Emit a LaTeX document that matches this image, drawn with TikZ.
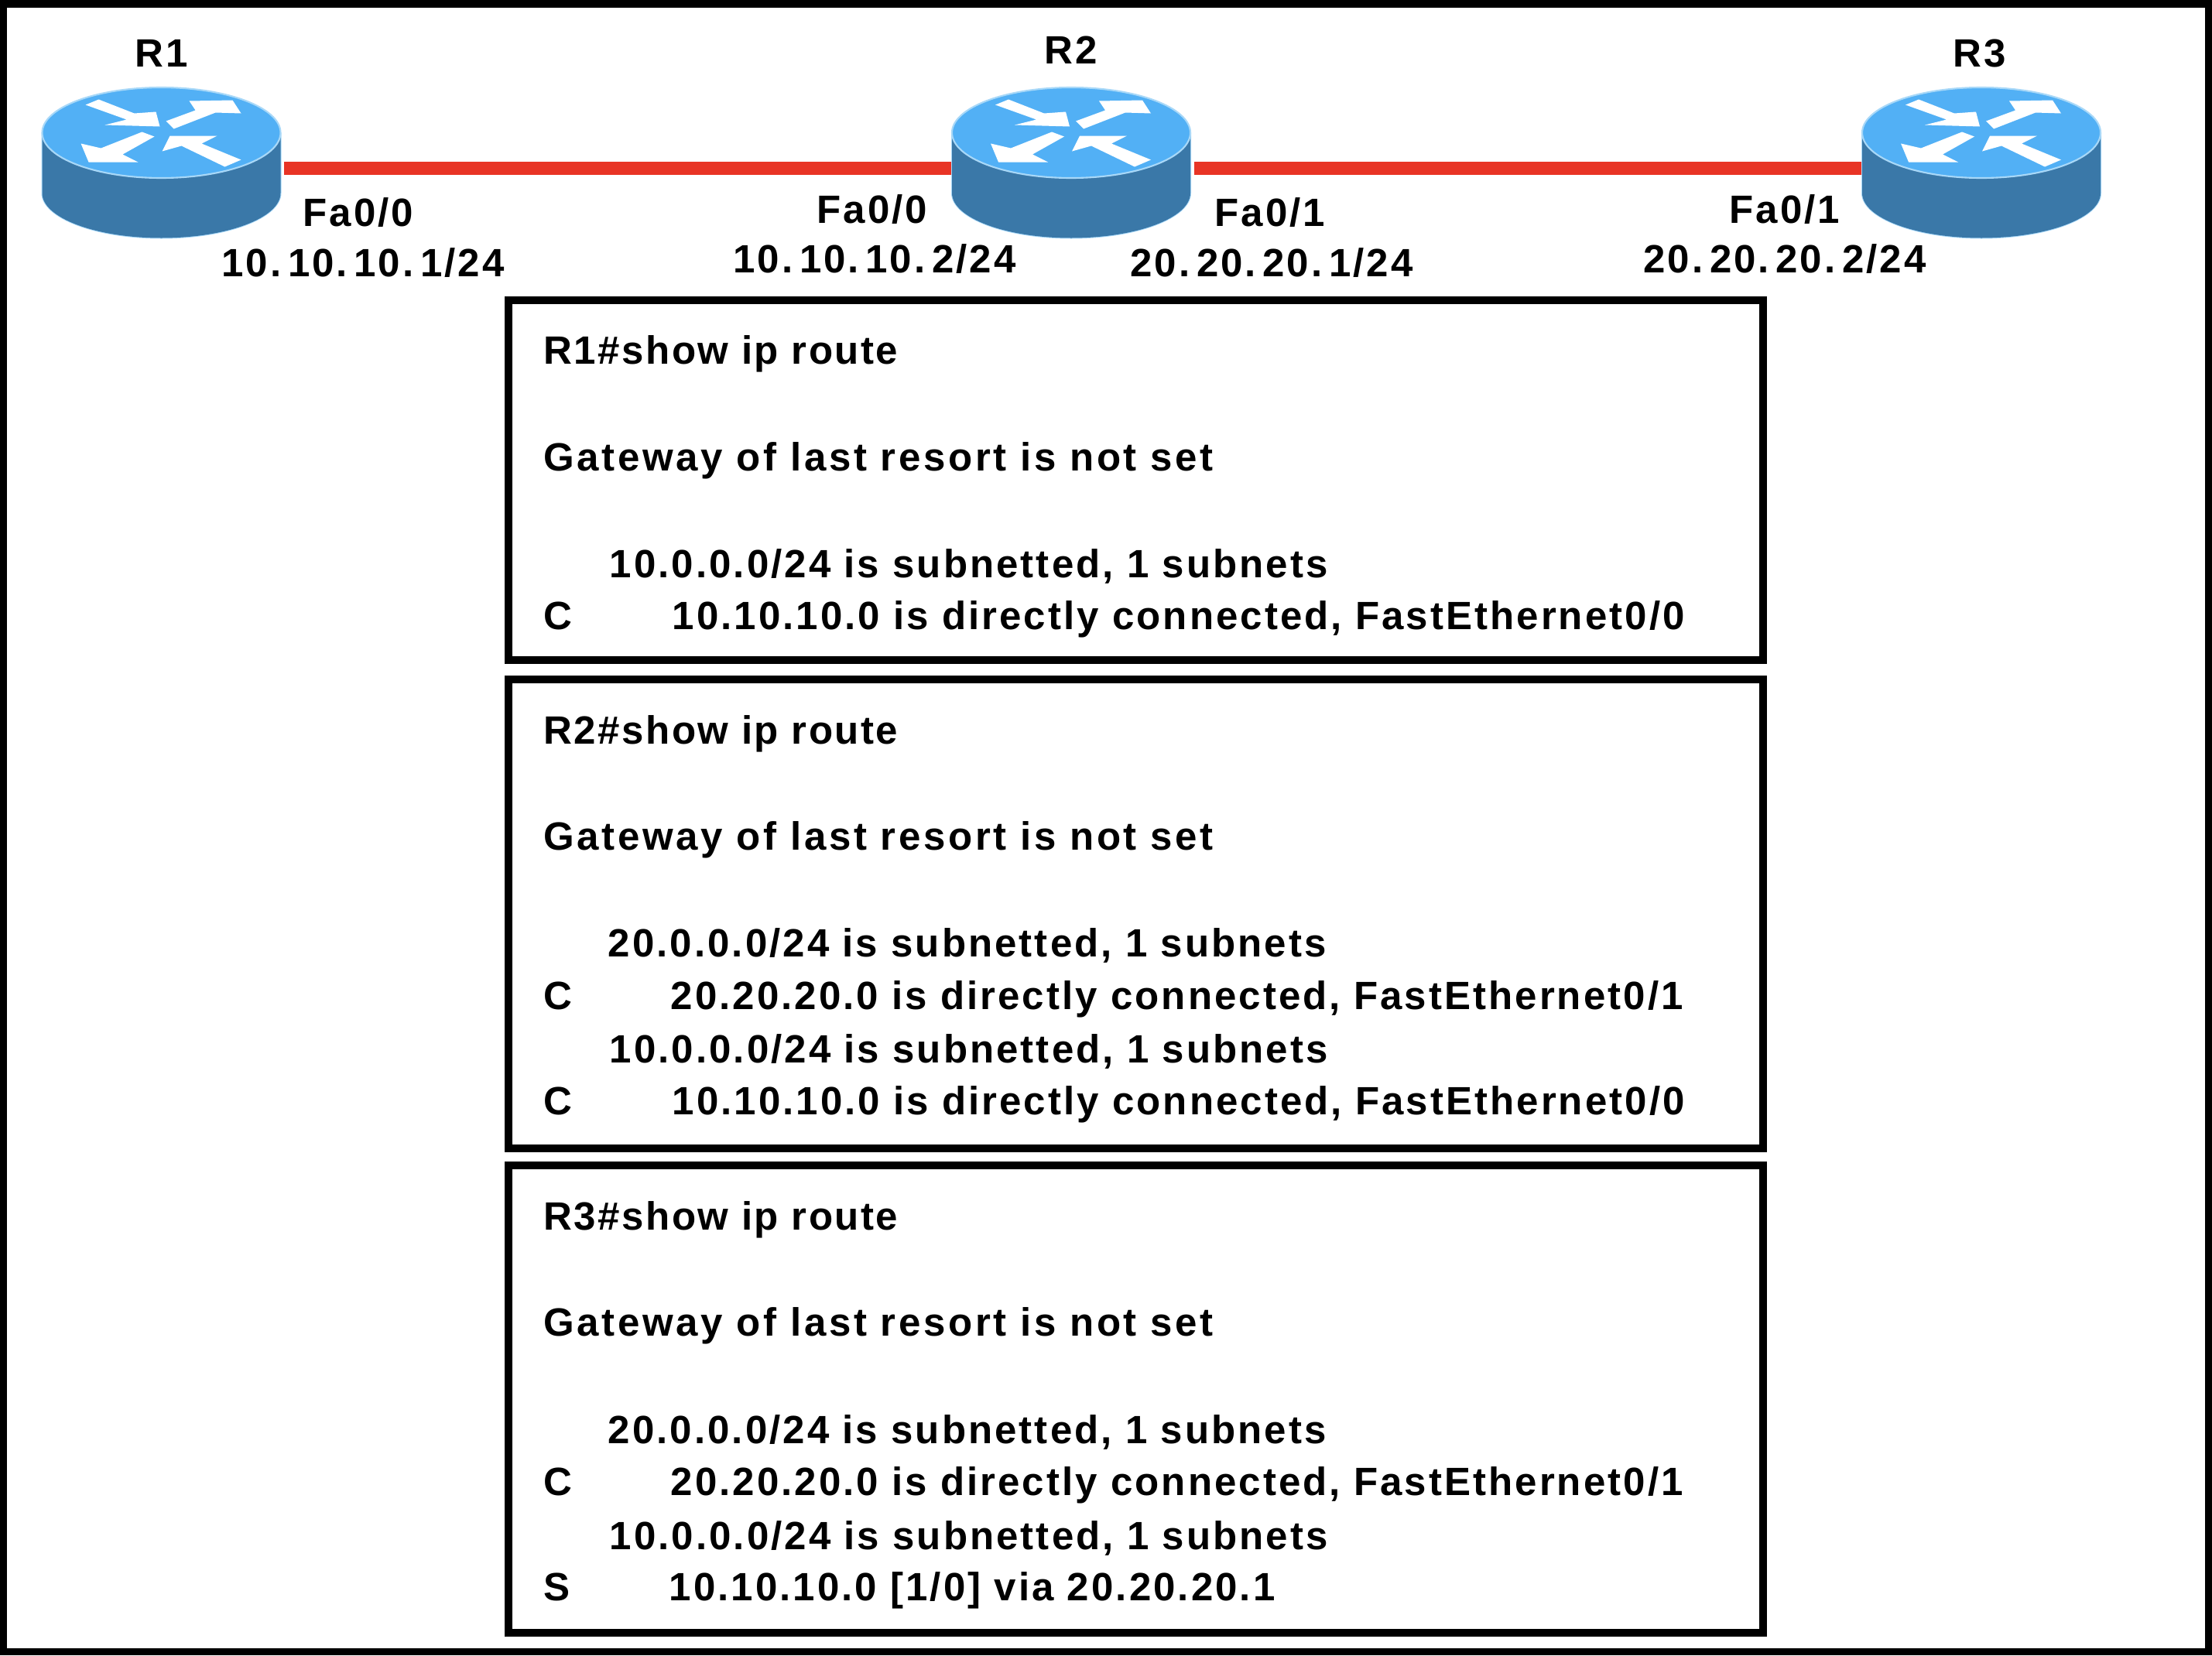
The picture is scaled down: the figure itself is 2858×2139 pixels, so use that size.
\documentclass[tikz,border=0pt]{standalone}
\usepackage{fontspec}
\setmainfont[LetterSpace=6]{Liberation Sans}
\definecolor{routertop}{HTML}{52B0F5}
\definecolor{routerside}{HTML}{3A78A8}
\definecolor{routerhalo}{HTML}{A8D8F8}
\definecolor{linkred}{HTML}{E83425}
\tikzset{
    label/.style = {inner sep=0, anchor=base, font=\fontsize{14.5}{16}\selectfont\bfseries},
    cli/.style = {inner sep=0, anchor=base west, font=\fontsize{14.5}{16}\selectfont\bfseries},
    cliwide/.style = {cli, font=\fontsize{14.5}{16}\selectfont\bfseries\addfontfeature{LetterSpace=7.1}},
    clitight/.style = {cli, font=\fontsize{14.5}{16}\selectfont\bfseries\addfontfeature{LetterSpace=4.9}},
    routebox/.style = {draw=black, line width=2.85pt, minimum width=16.2cm, inner sep=0, outer sep=0},
    routerport/.style = {minimum width=3.17cm, minimum height=1.9cm, inner sep=0, outer sep=0},
    redlink/.style = {draw=linkred, line width=4.8pt, shorten >=-0.08cm},
    routerpic/.pic = {
        % side first, then the top face and its four arrows
        \fill[routerhalo] (-155,32) arc (180:0:155 and 59) -- (155,-46) -- (-155,-46) -- cycle;
        \fill[routerside] (-154,32) arc (180:0:154 and 58) -- (154,-46) -- (-154,-46) -- cycle;
        \draw[routerhalo, fill=routertop, line width=0.6pt] (0,-46) ellipse (154 and 58.5);
        \begin{scope}[shift={(0,-46)}]
        \fill[white] (-98,-36) -- (-81,-43) -- (-35,-25) -- (-7,-27) -- (-2,-8) -- (-73,-10) -- (-45,-17) -- cycle;
        \fill[white] (6,-15) -- (44,-29) -- (36,-41) -- (92,-42) -- (103,-25) -- (70,-26) -- (16,-5) -- cycle;
        \fill[white] (-25,-1) -- (-9,5) -- (-50,28) -- (-30,38) -- (-94,38) -- (-104,14) -- (-78,20) -- cycle;
        \fill[white] (1,24) -- (11,4) -- (72,4) -- (52,14) -- (103,35) -- (82,44) -- (26,17) -- cycle;
        \end{scope}
    }
}
\begin{document}
\begin{tikzpicture}[x=0.01cm, y=-0.01cm]
    \useasboundingbox (0,0) rectangle (2858,2139);
    \draw[line width=2.6pt] (4.5,5) rectangle (2853.5,2134.5);

    \node[routerport] (routerA) at (208.5,217.5) {};
    \node[routerport] (routerB) at (1384,217.5) {};
    \node[routerport] (routerC) at (2560,217.5) {};
    \draw[redlink] (routerA) -- (routerB);
    \draw[redlink] (routerB) -- (routerC);
    \pic at (routerA) {routerpic};
    \pic at (routerB) {routerpic};
    \pic at (routerC) {routerpic};

    \node[label] (nameA) at (209,86) {R1};
    \node[label] (nameB) at (1384,82) {R2};
    \node[label] (nameC) at (2558,86) {R3};

    \node[label] (portA) at (463,292) {Fa0/0};
    \node[label] (addrA) at (469,357) {10.\,10.\,10.\,1/24};
    \node[label] (portB) at (1127,288) {Fa0/0};
    \node[label] (addrB) at (1130,352) {10.\,10.\,10.\,2/24};
    \node[label] (portC) at (1641,292) {Fa0/1};
    \node[label] (addrC) at (1643,357) {20.\,20.\,20.\,1/24};
    \node[label] (portD) at (2306,288) {Fa0/1};
    \node[label] (addrD) at (2306,352) {20.\,20.\,20.\,2/24};

    \node[routebox, minimum height=4.65cm] (boxA) at (1467.5,620.5) {};
    \node[clitight] (a1) at (702,470) {R1\#show ip route};
    \node[cliwide] (a2) at (702,608) {Gateway of last resort is not set};
    \node[cli] (a3) at (787,746) {10.0.0.0/24 is subnetted, 1 subnets};
    \node[cli] (a4) at (702,813) {C};
    \node[cli] (a5) at (868,813) {10.10.10.0 is directly connected, FastEthernet0/0};

    \node[routebox, minimum height=6.055cm] (boxB) at (1467.5,1181) {};
    \node[clitight] (b1) at (702,961) {R2\#show ip route};
    \node[cliwide] (b2) at (702,1098) {Gateway of last resort is not set};
    \node[cli] (b3) at (785,1236) {20.0.0.0/24 is subnetted, 1 subnets};
    \node[cli] (b4) at (702,1304) {C};
    \node[cli] (b5) at (866,1304) {20.20.20.0 is directly connected, FastEthernet0/1};
    \node[cli] (b6) at (787,1373) {10.0.0.0/24 is subnetted, 1 subnets};
    \node[cli] (b7) at (702,1440) {C};
    \node[cli] (b8) at (868,1440) {10.10.10.0 is directly connected, FastEthernet0/0};

    \node[routebox, minimum height=6.04cm] (boxC) at (1467.5,1808) {};
    \node[clitight] (c1) at (702,1589) {R3\#show ip route};
    \node[cliwide] (c2) at (702,1726) {Gateway of last resort is not set};
    \node[cli] (c3) at (785,1865) {20.0.0.0/24 is subnetted, 1 subnets};
    \node[cli] (c4) at (702,1932) {C};
    \node[cli] (c5) at (866,1932) {20.20.20.0 is directly connected, FastEthernet0/1};
    \node[cli] (c6) at (787,2002) {10.0.0.0/24 is subnetted, 1 subnets};
    \node[cli] (c7) at (702,2068) {S};
    \node[cli] (c8) at (864,2068) {10.10.10.0 [1/0] via 20.20.20.1};
\end{tikzpicture}
\end{document}
